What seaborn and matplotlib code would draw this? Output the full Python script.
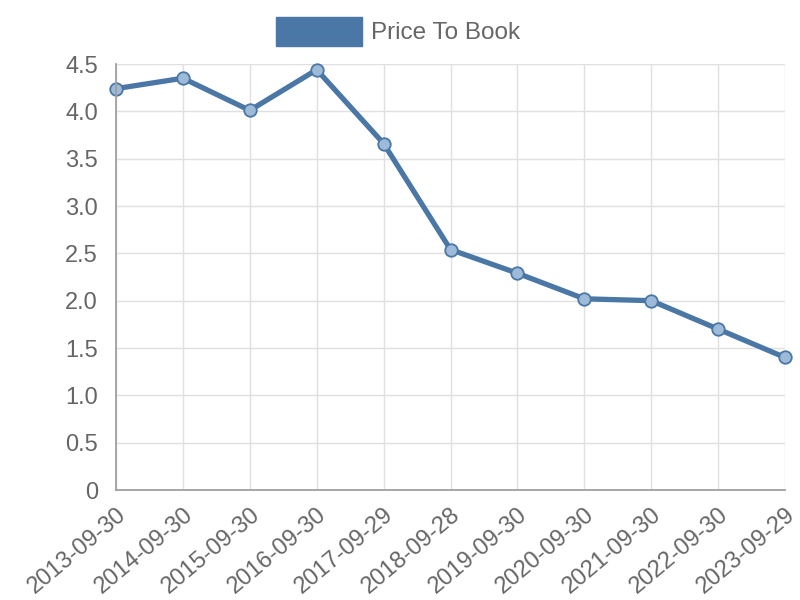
import matplotlib
matplotlib.use("Agg")
import matplotlib.pyplot as plt
import seaborn as sns
import pandas as pd
from matplotlib.patches import Rectangle
from matplotlib.ticker import FixedLocator, FuncFormatter

dates = ["2013-09-30", "2014-09-30", "2015-09-30", "2016-09-30", "2017-09-29",
         "2018-09-28", "2019-09-30", "2020-09-30", "2021-09-30", "2022-09-30",
         "2023-09-29"]
price_to_book = [4.24, 4.35, 4.01, 4.44, 3.66, 2.54, 2.29, 2.02, 2.00, 1.70, 1.40]
series_name = "Price To Book"

sns.set_theme(style="white")
plt.rcParams['font.family'] = ['Liberation Sans', 'DejaVu Sans']

LINE = "#4a77a6"
GRID = "#e0e0e0"
AXIS = "#a0a0a0"
TXT = "#666666"

df = pd.DataFrame({"date": dates, "value": price_to_book})

fig = plt.figure(figsize=(8, 6), dpi=100)
ax = fig.add_axes([0.145, 0.1833, 0.8363, 0.71])

sns.lineplot(data=df, x="date", y="value", ax=ax, color=LINE, linewidth=3.8,
             marker="o", markersize=9, markeredgewidth=1.3,
             markerfacecolor=(0.62, 0.73, 0.85, 1.0), markeredgecolor=LINE,
             sort=False, clip_on=False)

ax.set_xlim(0, len(dates) - 1)
ax.set_ylim(0, 4.5)
ax.yaxis.set_major_locator(FixedLocator([0, 0.5, 1, 1.5, 2, 2.5, 3, 3.5, 4, 4.5]))
ax.yaxis.set_major_formatter(FuncFormatter(lambda v, p: "0" if v == 0 else f"{v:.1f}"))
ax.set_xlabel("")
ax.set_ylabel("")

ax.grid(True, color=GRID, linewidth=1)
ax.set_axisbelow(True)
for s in ["top", "right"]:
    ax.spines[s].set_visible(False)
for s in ["left", "bottom"]:
    ax.spines[s].set_color(AXIS)
    ax.spines[s].set_linewidth(1.3)

ax.tick_params(axis="both", length=8, width=1, color=GRID, labelcolor=TXT)
ax.tick_params(axis="x", labelsize=17, pad=2)
ax.tick_params(axis="y", labelsize=17, pad=5)
plt.setp(ax.get_xticklabels(), rotation=40, ha="right", rotation_mode="anchor")

# legend
fig.patches.append(Rectangle((276 / 800, 1 - 46 / 600), 86 / 800, 29 / 600,
                             transform=fig.transFigure, facecolor=LINE,
                             edgecolor=LINE, linewidth=1))
fig.text(371 / 800, 1 - 33 / 600, series_name, color=TXT, fontsize=17.5,
         ha="left", va="center")

fig.savefig("out.png", dpi=100)
